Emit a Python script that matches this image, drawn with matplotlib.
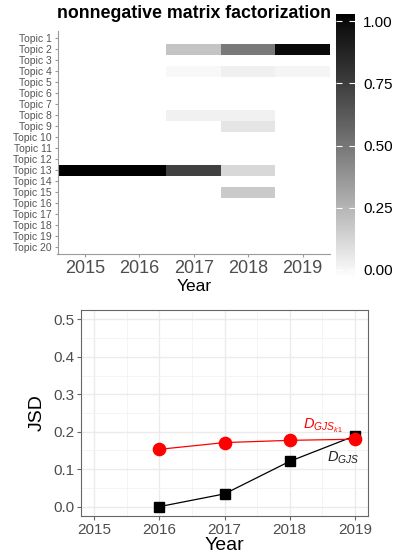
import numpy as np
import matplotlib
matplotlib.use('Agg')
import matplotlib.pyplot as plt
from matplotlib.colors import ListedColormap
from matplotlib.ticker import MultipleLocator

plt.rcParams['font.family'] = ['Liberation Sans', 'DejaVu Sans']
plt.rcParams['mathtext.fontset'] = 'custom'
plt.rcParams['mathtext.rm'] = 'Liberation Sans'
plt.rcParams['mathtext.it'] = 'Liberation Sans:italic'

# ---- data ----
years = [2015, 2016, 2017, 2018, 2019]
topics = ['Topic %d' % i for i in range(1, 21)]
na = np.nan
# topic weights per year (nan = no tile)
weights = [
    [na, na, na, na, na],          # Topic 1
    [na, na, 0.21, 0.49, 0.97],    # Topic 2
    [na, na, na, na, na],
    [na, na, 0.025, 0.054, 0.036], # Topic 4
    [na, na, na, na, na],
    [na, na, na, na, na],
    [na, na, na, na, na],
    [na, na, 0.05, 0.05, na],      # Topic 8
    [na, na, na, 0.09, na],        # Topic 9
    [na, na, na, na, na],
    [na, na, na, na, na],
    [na, na, na, na, na],
    [1.0, 1.0, 0.73, 0.14, na],    # Topic 13
    [na, na, na, na, na],
    [na, na, na, 0.19, na],        # Topic 15
    [na, na, na, na, na],
    [na, na, na, na, na],
    [na, na, na, na, na],
    [na, na, na, na, na],
    [na, na, na, na, na],
]

jsd_years = [2016, 2017, 2018, 2019]
d_gjs = [0.0, 0.034, 0.121, 0.189]
d_gjs_k1 = [0.153, 0.171, 0.177, 0.180]

# white -> black gradient, linear in lightness (like ggplot's Lab interpolation)
L = np.linspace(100, 0, 256)
Y = np.where(L > 8, ((L + 16) / 116) ** 3, L / 903.3)
g = np.where(Y <= 0.0031308, 12.92 * Y, 1.055 * Y ** (1 / 2.4) - 0.055)
cmap = ListedColormap(np.column_stack([g, g, g]))

W, H = 401, 560
fig = plt.figure(figsize=(W / 100, H / 100), dpi=100)

def box(l, t, r, b):
    return [l / W, 1 - b / H, (r - l) / W, (b - t) / H]

# ---- heatmap ----
ax = fig.add_axes(box(57.5, 31.4, 330, 254))
Z = np.ma.masked_invalid(np.array(weights))
xe = np.arange(len(years) + 1) - 0.5 + years[0]
ye = np.arange(len(topics) + 1) + 0.5
ax.pcolormesh(xe, ye, Z, cmap=cmap, vmin=0, vmax=1)
ax.set_xlim(xe[0], xe[-1])
ax.set_ylim(len(topics) + 0.6, 0.4)
ax.set_yticks(range(1, len(topics) + 1))
ax.set_yticklabels(topics)
ax.set_xticks(years)
for s in ['top', 'right']:
    ax.spines[s].set_visible(False)
for s in ['left', 'bottom']:
    ax.spines[s].set_color('#9a9a9a')
    ax.spines[s].set_linewidth(0.8)
ax.tick_params(axis='y', labelsize=7.5, labelcolor='#555555', color='#9a9a9a', length=2.5, pad=1.5)
ax.tick_params(axis='x', labelsize=13, labelcolor='#4D4D4D', color='#9a9a9a', length=2.5, pad=2)
ax.set_xlabel('Year', fontsize=12.5, labelpad=1)
fig.text(57 / W, 1 - 14 / H, 'nonnegative matrix factorization', fontsize=12.8,
         fontweight='bold', ha='left', va='center')

# colorbar
cax = fig.add_axes(box(336, 14, 355, 277))
grad = np.linspace(0, 1, 256)[:, None]
cax.imshow(grad, extent=[0, 1, -0.03, 1.03], origin='lower', aspect='auto', cmap=cmap, vmin=0, vmax=1)
cax.set_xlim(0, 1)
cax.set_ylim(-0.03, 1.03)
cax.set_xticks([])
cax.set_yticks([0, 0.25, 0.5, 0.75, 1.0])
cax.set_yticklabels(['0.00', '0.25', '0.50', '0.75', '1.00'])
for s in cax.spines.values():
    s.set_visible(False)
cax.tick_params(axis='y', direction='in', length=4, color='white', width=0.8,
                left=True, right=True, labelleft=False, labelright=True,
                labelsize=11, pad=6)

# ---- JSD line plot ----
ax2 = fig.add_axes(box(81, 310, 368, 516))
ax2.plot(jsd_years, d_gjs, color='black', lw=0.9, marker='s', ms=7.5, zorder=3)
ax2.plot(jsd_years, d_gjs_k1, color='red', lw=0.9, marker='o', ms=8.8, zorder=4)
ax2.text(2018.82, 0.130, r'$D_{GJS}$', color='#222222', fontsize=10.5, ha='center', va='center')
ax2.text(2018.5, 0.216, r'$D_{GJS_{k1}}$', color='red', fontsize=10.5, ha='center', va='center')
ax2.set_xlim(2014.8, 2019.2)
ax2.set_ylim(-0.025, 0.525)
ax2.xaxis.set_major_locator(MultipleLocator(1))
ax2.xaxis.set_minor_locator(MultipleLocator(0.5))
ax2.yaxis.set_major_locator(MultipleLocator(0.1))
ax2.yaxis.set_minor_locator(MultipleLocator(0.05))
ax2.grid(which='major', color='#EBEBEB', lw=1.0)
ax2.grid(which='minor', color='#F2F2F2', lw=0.6)
ax2.set_axisbelow(True)
for s in ax2.spines.values():
    s.set_color('#666666')
    s.set_linewidth(0.8)
ax2.tick_params(which='minor', length=0)
ax2.tick_params(which='major', labelsize=11, labelcolor='#4D4D4D', color='#666666', length=3, pad=2)
ax2.set_xlabel('Year', fontsize=14, labelpad=0)
ax2.set_ylabel('JSD', fontsize=14, labelpad=5)

fig.savefig('out.png', dpi=100)
